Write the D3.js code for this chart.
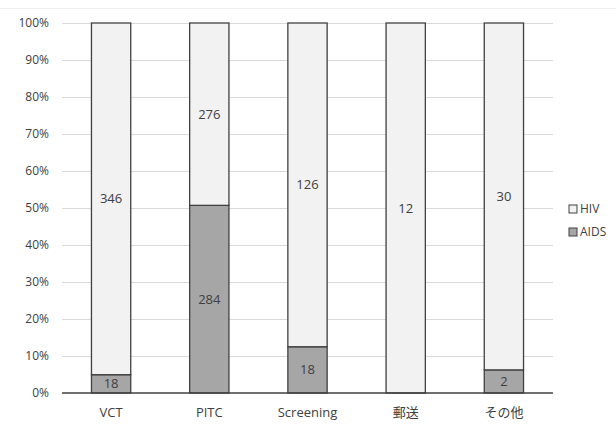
<!DOCTYPE html>
<html>
<head>
<meta charset="utf-8">
<script src="https://cdn.jsdelivr.net/npm/d3@7"></script>
<style>
  body { margin: 0; background: #fff; }
  text { font-family: "Open Sans", "Noto Sans CJK JP", sans-serif; }
</style>
</head>
<body>
<svg id="chart" width="616" height="426"></svg>
<script>
// Cases by testing route, split into HIV and AIDS at diagnosis
const categories = ["VCT", "PITC", "Screening", "郵送", "その他"];
const hivCounts  = [346, 276, 126, 12, 30];
const aidsCounts = [18, 284, 18, 0, 2];
const yTicks = [0, 0.1, 0.2, 0.3, 0.4, 0.5, 0.6, 0.7, 0.8, 0.9, 1.0];
const seriesNames = ["HIV", "AIDS"];

const svg = d3.select("#chart");
const margin = { left: 62, right: 63, top: 23, bottom: 33 };
const W = 616, H = 426;

const x = d3.scaleBand().domain(categories)
  .range([margin.left, W - margin.right]).paddingInner(0.6).paddingOuter(0.3);
const y = d3.scaleLinear().domain([0, 1]).range([H - margin.bottom, margin.top]);

const textColor = "#404040";

// faint outer frame line at top
svg.append("line").attr("x1", 0).attr("x2", W).attr("y1", 8.5).attr("y2", 8.5)
  .attr("stroke", "#efefef");

// gridlines
svg.append("g").selectAll("line").data(yTicks.slice(1)).join("line")
  .attr("x1", margin.left).attr("x2", W - margin.right)
  .attr("y1", d => Math.round(y(d)) + 0.5).attr("y2", d => Math.round(y(d)) + 0.5)
  .attr("stroke", "#d9d9d9").attr("stroke-width", 1);

// y axis labels
const yAxis = d3.axisLeft(y).tickValues(yTicks).tickFormat(d3.format(".0%")).tickSize(0).tickPadding(13);
const ya = svg.append("g").attr("transform", `translate(${margin.left},0)`).call(yAxis);
ya.select(".domain").remove();
ya.selectAll("text").attr("fill", textColor).style("font-size", "12px")
  .style("font-family", "'Open Sans', sans-serif");

// stacked percentage data
const rows = categories.map((c, i) => {
  const total = hivCounts[i] + aidsCounts[i];
  return { cat: c, aids: aidsCounts[i], hiv: hivCounts[i],
           aidsP: aidsCounts[i] / total, hivP: hivCounts[i] / total };
});

const bars = svg.append("g");
// AIDS segment (bottom)
bars.selectAll("rect.aids").data(rows.filter(r => r.aids > 0)).join("rect")
  .attr("class", "aids")
  .attr("x", d => x(d.cat)).attr("width", x.bandwidth())
  .attr("y", d => y(d.aidsP)).attr("height", d => y(0) - y(d.aidsP))
  .attr("fill", "#a6a6a6").attr("stroke", "#404040").attr("stroke-width", 1.3);
// HIV segment (top)
bars.selectAll("rect.hiv").data(rows).join("rect")
  .attr("class", "hiv")
  .attr("x", d => x(d.cat)).attr("width", x.bandwidth())
  .attr("y", d => y(1)).attr("height", d => y(d.aidsP) - y(1))
  .attr("fill", "#f2f2f2").attr("stroke", "#404040").attr("stroke-width", 1.3);

// value labels
const labels = svg.append("g").style("font-size", "13px").attr("fill", textColor).attr("text-anchor", "middle");
labels.selectAll("text.hivl").data(rows).join("text")
  .attr("x", d => x(d.cat) + x.bandwidth() / 2)
  .attr("y", d => y(d.aidsP + d.hivP / 2)).attr("dy", "0.35em")
  .text(d => d.hiv);
labels.selectAll("text.aidsl").data(rows.filter(r => r.aids > 0)).join("text")
  .attr("x", d => x(d.cat) + x.bandwidth() / 2)
  .attr("y", d => y(d.aidsP / 2)).attr("dy", "0.35em")
  .text(d => d.aids);

// x axis baseline
svg.append("line").attr("x1", margin.left).attr("x2", W - margin.right)
  .attr("y1", y(0)).attr("y2", y(0)).attr("stroke", "#404040").attr("stroke-width", 1.3);

// category labels
svg.append("g").selectAll("text").data(categories).join("text")
  .attr("x", d => x(d) + x.bandwidth() / 2).attr("y", y(0) + 24)
  .attr("text-anchor", "middle").attr("fill", textColor).style("font-size", "13px")
  .text(d => d);

// legend
const legend = svg.append("g").attr("transform", "translate(569,205)");
const legendFill = { HIV: "#f2f2f2", AIDS: "#a6a6a6" };
seriesNames.forEach((s, i) => {
  const g = legend.append("g").attr("transform", `translate(0,${i * 23})`);
  g.append("rect").attr("x", 0).attr("y", 0).attr("width", 8).attr("height", 8)
    .attr("fill", legendFill[s]).attr("stroke", "#404040").attr("stroke-width", 1);
  g.append("text").attr("x", 11).attr("y", 4).attr("dy", "0.35em")
    .attr("fill", textColor).style("font-size", "12px").text(s);
});
</script>
</body>
</html>
